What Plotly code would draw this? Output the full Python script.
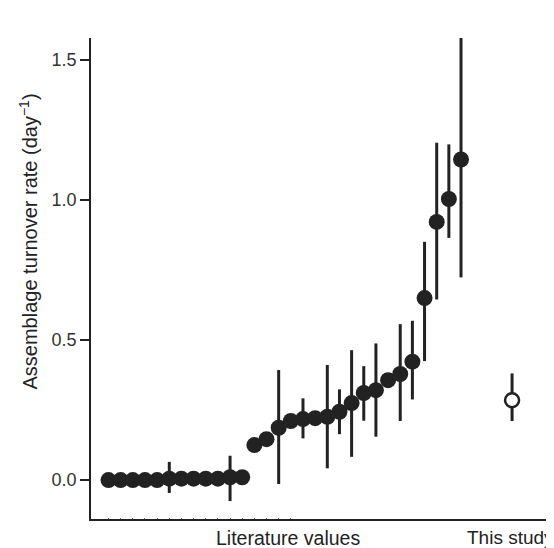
import plotly.graph_objects as go

# Literature values (sorted), with lower/upper bounds of error bars
lit_values = [0.0, 0.0, 0.0, 0.0, 0.0, 0.005, 0.005, 0.005, 0.005, 0.005, 0.01, 0.01,
              0.125, 0.146, 0.187, 0.211, 0.218, 0.221, 0.226, 0.244, 0.275, 0.311,
              0.321, 0.357, 0.379, 0.423, 0.65, 0.922, 1.004, 1.145]
lit_lower = [0.0, 0.0, 0.0, 0.0, 0.0, -0.046, 0.005, 0.005, 0.005, 0.005, -0.075, 0.01,
             0.125, 0.146, -0.014, 0.211, 0.149, 0.221, 0.042, 0.164, 0.083, 0.212,
             0.155, 0.357, 0.211, 0.288, 0.425, 0.645, 0.865, 0.724]
lit_upper = [0.0, 0.0, 0.0, 0.0, 0.0, 0.065, 0.005, 0.005, 0.005, 0.005, 0.087, 0.01,
             0.125, 0.146, 0.393, 0.211, 0.292, 0.221, 0.411, 0.324, 0.464, 0.407,
             0.488, 0.357, 0.557, 0.569, 0.851, 1.205, 1.199, 1.607]

study_value = [0.285]
study_lower = [0.211]
study_upper = [0.381]

category_labels = ["Literature values", "This study"]
y_title = "Assemblage turnover rate (day<sup>−1</sup>)"

lit_x = list(range(len(lit_values)))
study_x = [33.2]

FONT = "Liberation Sans, Arial, Helvetica, sans-serif"

fig = go.Figure()
fig.add_trace(go.Scatter(
    x=lit_x, y=lit_values, mode="markers",
    marker=dict(size=16, color="#222222", line=dict(width=0)),
    error_y=dict(type="data", symmetric=False,
                 array=[u - v for u, v in zip(lit_upper, lit_values)],
                 arrayminus=[v - l for v, l in zip(lit_values, lit_lower)],
                 width=0, thickness=3, color="#222222"),
    showlegend=False, cliponaxis=False,
))
fig.add_trace(go.Scatter(
    x=study_x, y=study_value, mode="markers",
    marker=dict(size=14, color="white", line=dict(width=2.5, color="#222222")),
    error_y=dict(type="data", symmetric=False,
                 array=[u - v for u, v in zip(study_upper, study_value)],
                 arrayminus=[v - l for v, l in zip(study_value, study_lower)],
                 width=0, thickness=3, color="#222222"),
    showlegend=False, cliponaxis=False,
))

lit_center = (lit_x[0] + lit_x[-1]) / 2 + 0.3
fig.add_annotation(x=lit_center, y=0, xref="x", yref="paper", yanchor="top", yshift=-6,
                   text=category_labels[0], showarrow=False,
                   font=dict(size=19.5, color="#222222", family=FONT))
fig.add_annotation(x=1.0, y=0, xref="paper", yref="paper", xanchor="right", yanchor="top",
                   yshift=-6, xshift=2, text=category_labels[1], showarrow=False,
                   font=dict(size=19, color="#222222", family=FONT))
fig.add_annotation(x=-0.1348, y=0.576, xref="paper", yref="paper", textangle=-90,
                   xanchor="center", yanchor="middle", text=y_title, showarrow=False,
                   font=dict(size=20, color="#222222", family=FONT))

fig.update_layout(
    width=546, height=540,
    margin=dict(l=82.5, r=0, t=30, b=29),
    plot_bgcolor="white", paper_bgcolor="white",
    font=dict(family=FONT, size=18, color="#333333"),
    xaxis=dict(range=[-1.44, 36.65], showgrid=False, zeroline=False,
               showline=True, linecolor="#222222", linewidth=1.5,
               tickmode="array", tickvals=list(range(16)), ticktext=[""] * 16,
               ticks="inside", ticklen=1.5, tickwidth=1, tickcolor="#666666"),
    yaxis=dict(range=[-0.139, 1.579], showgrid=False, zeroline=False,
               showline=True, linecolor="#222222", linewidth=1.5,
               tickmode="array", tickvals=[0, 0.5, 1.0, 1.5],
               ticktext=["0.0", "0.5", "1.0", "1.5"],
               ticks="outside", ticklen=9, tickwidth=1.5, tickcolor="#222222",
               tickfont=dict(size=18, color="#333333")),
)

fig.write_html("out.html")
